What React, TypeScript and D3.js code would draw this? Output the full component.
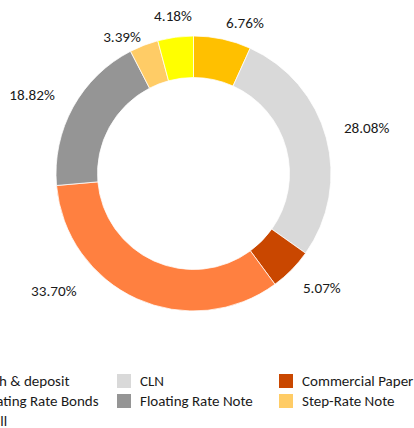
import React from "react";
import * as d3 from "d3";

const categories = [
  "Cash & deposit",
  "CLN",
  "Commercial Paper",
  "Floating Rate Bonds",
  "Floating Rate Note",
  "Step-Rate Note",
  "T-Bill",
];
const shares = [6.76, 28.08, 5.07, 33.7, 18.82, 3.39, 4.18];
const colors = ["#FFC000", "#D9D9D9", "#C94700", "#FF8040", "#959595", "#FFCC66", "#FFFF00"];

// label placement (layout only): angular nudge in degrees and radius in px
const labelNudge = [6.7, 0.4, -2.8, 25.6, -2.9, -6.5, 0.1];
const labelRadius = [159, 179, 172, 182.5, 179.6, 154, 158.8];

const W = 414;
const H = 428;
const CX = 193.5;
const CY = 173.5;
const R_OUT = 137.5;
const R_IN = 96;
const FONT = "Carlito, Calibri, Lato, 'Open Sans', sans-serif";

export default function App() {
  const data = categories.map((c, i) => ({ c, v: shares[i], i }));
  const pie = d3
    .pie<any>()
    .sort(null)
    .value((d) => d.v)
    .startAngle(0)
    .endAngle(2 * Math.PI);
  const arcs = pie(data);
  const arc = d3.arc<any>().innerRadius(R_IN).outerRadius(R_OUT);

  const colX = d3.scaleOrdinal<number, number>().domain([0, 1, 2]).range([-45, 117, 279]);
  const rowY = d3.scaleOrdinal<number, number>().domain([0, 1, 2]).range([381, 401, 421]);

  return (
    <svg
      width={W}
      height={H}
      style={{ position: "absolute", left: 0, top: 0, overflow: "hidden", background: "#fff" }}
      fontFamily={FONT}
    >
      <g transform={`translate(${CX},${CY})`}>
        {arcs.map((a, k) => (
          <path key={k} d={arc(a) as string} fill={colors[a.data.i]} stroke="#fff" strokeWidth={0.75} />
        ))}
        {arcs.map((a, k) => {
          const mid = (a.startAngle + a.endAngle) / 2 + (labelNudge[k] * Math.PI) / 180;
          const r = labelRadius[k];
          const x = r * Math.sin(mid);
          const y = -r * Math.cos(mid);
          return (
            <text
              key={"l" + k}
              x={x}
              y={y}
              textAnchor="middle"
              dominantBaseline="central"
              fontSize={15.2}
              fill="#1a1a1a"
            >
              {d3.format(".2f")(a.data.v) + "%"}
            </text>
          );
        })}
      </g>
      <g>
        {categories.map((c, i) => {
          const col = i % 3;
          const row = Math.floor(i / 3);
          const x = colX(col);
          const y = rowY(row);
          return (
            <g key={"lg" + i}>
              <rect x={x} y={y - 7} width={14} height={14} fill={colors[i]} />
              <text x={x + 23} y={y} dominantBaseline="central" fontSize={15} fill="#1a1a1a">
                {c}
              </text>
            </g>
          );
        })}
      </g>
    </svg>
  );
}
